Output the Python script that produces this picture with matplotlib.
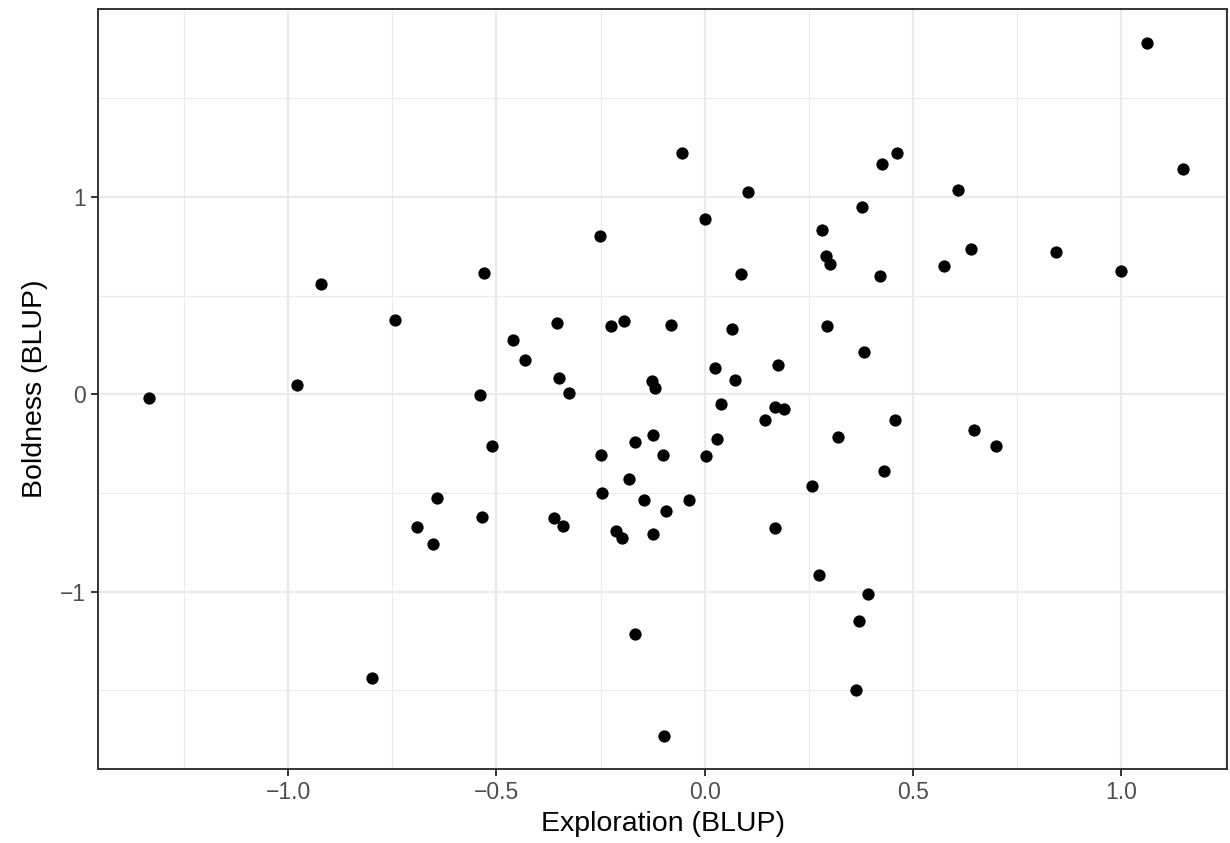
"""Nuage de points exploration vs audace (BLUP)."""
import matplotlib
matplotlib.use("Agg")
import matplotlib.pyplot as plt
from matplotlib.ticker import MultipleLocator, FuncFormatter

# BLUP par individu
exploration = [
    -1.334, -0.922, -0.744, -0.979, -0.531, -0.539, -0.460, -0.432, -0.355, -0.349,
    -0.325, -0.226, -0.194, -0.080, -0.252, -0.055, 0.000, 0.105, 0.426, 0.463,
    0.377, 0.282, 0.292, 0.302, 0.087, 0.422, 0.066, 0.293, 0.382, 0.177,
    0.026, 0.072, -0.127, -0.119, 0.039, 0.168, 0.191, 0.146, 0.458, -0.124,
    -0.167, 0.030, 0.320, -0.250, -0.100, 0.003, -0.181, 0.430, 0.257, -0.246,
    -0.145, -0.038, -0.093, -0.362, -0.341, -0.213, -0.198, -0.124, 0.170, 0.274,
    0.392, 0.370, -0.167, 0.363, -0.098, -0.511, -0.643, -0.535, -0.692, -0.652,
    -0.799, 1.062, 1.148, 0.609, 0.640, 0.575, 0.845, 1.001, 0.648, 0.700,
]
boldness = [
    -0.017, 0.557, 0.377, 0.047, 0.613, -0.004, 0.274, 0.172, 0.363, 0.084,
    0.005, 0.348, 0.372, 0.353, 0.804, 1.221, 0.890, 1.024, 1.169, 1.221,
    0.949, 0.831, 0.703, 0.662, 0.610, 0.601, 0.329, 0.346, 0.216, 0.149,
    0.133, 0.071, 0.067, 0.034, -0.048, -0.066, -0.076, -0.129, -0.130, -0.205,
    -0.243, -0.227, -0.218, -0.309, -0.309, -0.314, -0.431, -0.390, -0.466, -0.499,
    -0.534, -0.534, -0.590, -0.628, -0.666, -0.694, -0.727, -0.710, -0.676, -0.914,
    -1.012, -1.147, -1.215, -1.499, -1.730, -0.260, -0.524, -0.624, -0.671, -0.760,
    -1.439, 1.782, 1.142, 1.037, 0.736, 0.649, 0.720, 0.627, -0.183, -0.262,
]

plt.rcParams["font.family"] = ["Liberation Sans", "DejaVu Sans"]

fig = plt.figure(figsize=(12.3, 8.43), dpi=100)
ax = fig.add_axes([0.0797, 0.0878, 0.9179, 0.9015])

ax.scatter(exploration, boldness, s=78, color="black", linewidths=0, zorder=3)

ax.set_xlim(-1.457, 1.255)
ax.set_ylim(-1.899, 1.953)

ax.xaxis.set_major_locator(MultipleLocator(0.5))
ax.xaxis.set_minor_locator(MultipleLocator(0.25))
ax.yaxis.set_major_locator(MultipleLocator(1))
ax.yaxis.set_minor_locator(MultipleLocator(0.5))
ax.xaxis.set_major_formatter(FuncFormatter(lambda v, p: f"{v:.1f}".replace("-", "\u2212")))
ax.yaxis.set_major_formatter(FuncFormatter(lambda v, p: f"{v:.0f}".replace("-", "\u2212")))

ax.set_axisbelow(True)
ax.grid(which="major", color="#EBEBEB", linewidth=1.6)
ax.grid(which="minor", color="#EBEBEB", linewidth=0.8)

for side in ax.spines.values():
    side.set_color("#333333")
    side.set_linewidth(1.4)

ax.tick_params(which="major", length=5, width=1.4, color="#333333",
               labelsize=16.5, labelcolor="#4D4D4D", pad=4)
ax.tick_params(which="minor", length=0)

ax.set_xlabel("Exploration (BLUP)", fontsize=20.5, color="black", labelpad=5)
ax.set_ylabel("Boldness (BLUP)", fontsize=20.5, color="black", labelpad=8)

fig.savefig("out.png", dpi=100, facecolor="white")
plt.close(fig)
